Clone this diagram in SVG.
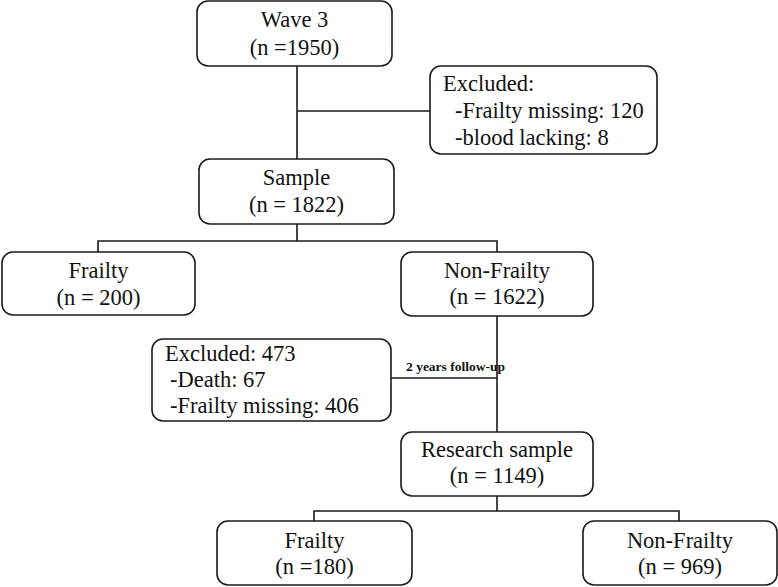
<svg xmlns="http://www.w3.org/2000/svg" width="778" height="587" viewBox="0 0 778 587">
<style>
.box{fill:#fff;stroke:#1a1a1a;stroke-width:1.6}
.ln{fill:none;stroke:#1a1a1a;stroke-width:1.6}
.t{font-family:'Liberation Serif','Times New Roman',Times,serif;font-size:22.5px;fill:#111}
.c{text-anchor:middle}
.s{font-size:13.5px;font-weight:bold}
</style>
<rect width="778" height="587" fill="#fff"/>
<g id="connectors">
<path class="ln" d="M297,66 V159 M297,111 H430"/>
<path class="ln" d="M297,224 V241 M98,252 V241 H497 V252"/>
<path class="ln" d="M497,316 V432 M391,378 H497"/>
<path class="ln" d="M497,496 V511 M314,521 V511 H679 V521"/>
</g>
<g class="t" font-family="Liberation Serif, serif">
<g id="wave3">
<rect class="box" x="197" y="1" width="195" height="65" rx="11"/>
<text class="c" x="294.5" y="27">Wave 3</text>
<text class="c" x="294.5" y="55">(n =1950)</text>
</g>
<g id="excluded1">
<rect class="box" x="430" y="66" width="227" height="88" rx="11"/>
<text x="443" y="91">Excluded:</text>
<text x="455" y="118">-Frailty missing: 120</text>
<text x="455" y="145">-blood lacking: 8</text>
</g>
<g id="sample">
<rect class="box" x="199" y="159" width="195" height="65" rx="11"/>
<text class="c" x="296.5" y="185">Sample</text>
<text class="c" x="296.5" y="212">(n = 1822)</text>
</g>
<g id="frailty1">
<rect class="box" x="2" y="252" width="193" height="63" rx="11"/>
<text class="c" x="98.5" y="278">Frailty</text>
<text class="c" x="98.5" y="305">(n = 200)</text>
</g>
<g id="nonfrailty1">
<rect class="box" x="401" y="252" width="192" height="64" rx="11"/>
<text class="c" x="497" y="278">Non-Frailty</text>
<text class="c" x="497" y="304">(n = 1622)</text>
</g>
<g id="excluded2">
<rect class="box" x="152" y="339" width="239" height="82" rx="11"/>
<text x="165" y="361">Excluded: 473</text>
<text x="170" y="387">-Death: 67</text>
<text x="170" y="413">-Frailty missing: 406</text>
</g>
<g id="followup-label">
<text class="s" x="406" y="371">2 years follow-up</text>
</g>
<g id="research">
<rect class="box" x="401" y="432" width="192" height="64" rx="11"/>
<text class="c" x="497" y="457">Research sample</text>
<text class="c" x="497" y="483">(n = 1149)</text>
</g>
<g id="frailty2">
<rect class="box" x="217" y="521" width="195" height="64" rx="11"/>
<text class="c" x="314.5" y="548">Frailty</text>
<text class="c" x="314.5" y="574">(n =180)</text>
</g>
<g id="nonfrailty2">
<rect class="box" x="583" y="521" width="194" height="64" rx="11"/>
<text class="c" x="680" y="548">Non-Frailty</text>
<text class="c" x="680" y="574">(n = 969)</text>
</g>
</g>
</svg>
